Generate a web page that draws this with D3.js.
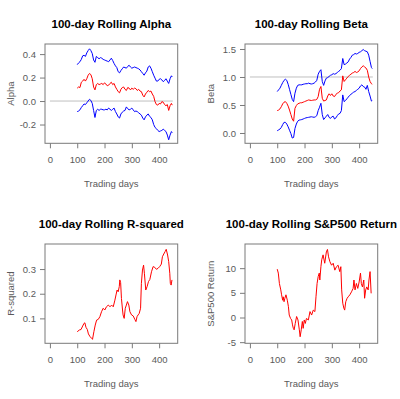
<!DOCTYPE html>
<html><head><meta charset="utf-8">
<script src="https://cdn.jsdelivr.net/npm/d3@7"></script>
<style>html,body{margin:0;padding:0;background:#fff;} svg{display:block;}</style>
</head><body><svg id="c" width="400" height="399"></svg>
<script>
// ---------- data ----------
const xTicks = [0, 100, 200, 300, 400];

const rollDays = [100,105,110,115,120,125,130,135,140,145,
  150,155,160,165,170,175,180,185,190,195,
  200,205,210,215,220,225,230,235,240,245,
  250,255,260,265,270,275,280,285,290,295,
  300,305,310,315,320,325,330,335,340,345,
  350,355,360,365,370,375,380,385,390,395,
  400,405,410,415,420,425,430,435,440,445,448];

const alphaMid = [0.11,0.12,0.115,0.16,0.17,0.185,0.17,0.19,0.22,0.235,
  0.225,0.19,0.12,0.095,0.14,0.15,0.14,0.145,0.15,0.14,
  0.155,0.145,0.13,0.135,0.15,0.16,0.14,0.15,0.12,0.10,
  0.08,0.07,0.10,0.115,0.12,0.10,0.09,0.115,0.11,0.095,
  0.11,0.10,0.11,0.105,0.09,0.10,0.085,0.08,0.05,0.035,
  0.06,0.075,0.09,0.08,0.085,0.06,0.04,-0.005,-0.03,-0.035,
  -0.02,-0.025,-0.005,-0.01,-0.03,-0.04,-0.03,-0.08,-0.04,-0.02,-0.035];
const alphaUpper = [0.31,0.325,0.335,0.355,0.385,0.39,0.38,0.41,0.43,0.445,
  0.43,0.405,0.35,0.33,0.38,0.37,0.36,0.37,0.365,0.355,
  0.35,0.345,0.34,0.335,0.35,0.365,0.345,0.32,0.30,0.285,
  0.25,0.24,0.26,0.275,0.29,0.285,0.28,0.295,0.305,0.29,
  0.28,0.285,0.29,0.285,0.28,0.275,0.265,0.25,0.235,0.22,
  0.24,0.255,0.29,0.30,0.28,0.25,0.22,0.195,0.17,0.17,
  0.185,0.19,0.18,0.165,0.175,0.19,0.17,0.15,0.19,0.215,0.205];
const alphaLower = [-0.09,-0.085,-0.075,-0.055,-0.04,-0.025,-0.03,-0.015,0.0,0.015,
  0.005,-0.02,-0.08,-0.14,-0.08,-0.07,-0.08,-0.07,-0.07,-0.075,
  -0.075,-0.07,-0.075,-0.06,-0.07,-0.08,-0.07,-0.06,-0.09,-0.11,
  -0.135,-0.145,-0.11,-0.095,-0.085,-0.08,-0.05,-0.065,-0.075,-0.07,
  -0.06,-0.075,-0.09,-0.085,-0.09,-0.1,-0.11,-0.12,-0.145,-0.16,
  -0.135,-0.12,-0.11,-0.13,-0.14,-0.16,-0.2,-0.225,-0.235,-0.25,
  -0.26,-0.255,-0.25,-0.24,-0.25,-0.26,-0.29,-0.33,-0.29,-0.26,-0.27];

const betaMid = [0.40,0.41,0.43,0.47,0.52,0.55,0.56,0.53,0.48,0.41,
  0.33,0.25,0.21,0.44,0.49,0.52,0.53,0.54,0.54,0.55,
  0.56,0.57,0.58,0.59,0.585,0.58,0.585,0.59,0.59,0.60,
  0.65,0.78,0.83,0.62,0.57,0.58,0.59,0.66,0.70,0.67,
  0.70,0.66,0.65,0.69,0.71,0.72,0.75,0.77,1.02,0.92,
  0.95,0.98,1.01,1.03,1.05,1.07,1.08,1.10,1.08,1.09,
  1.11,1.15,1.18,1.20,1.18,1.16,1.12,1.00,0.92,0.88,0.87];
const betaUpper = [0.74,0.77,0.80,0.85,0.90,0.94,0.96,0.94,0.87,0.78,
  0.69,0.60,0.56,0.71,0.80,0.85,0.86,0.86,0.86,0.87,
  0.875,0.88,0.88,0.89,0.88,0.875,0.88,0.89,0.91,0.94,
  1.05,1.10,1.13,0.92,0.85,0.93,0.98,0.99,1.01,1.03,
  1.04,1.06,1.05,1.06,1.08,1.10,1.12,1.15,1.33,1.22,
  1.23,1.25,1.27,1.32,1.35,1.39,1.40,1.42,1.41,1.42,
  1.44,1.45,1.47,1.49,1.47,1.46,1.45,1.39,1.28,1.17,1.15];
const betaLower = [0.04,0.055,0.07,0.10,0.15,0.19,0.19,0.16,0.11,0.05,
  -0.01,-0.09,-0.08,0.08,0.16,0.21,0.23,0.235,0.24,0.25,
  0.26,0.27,0.275,0.28,0.285,0.29,0.285,0.28,0.29,0.31,
  0.40,0.46,0.53,0.33,0.24,0.27,0.30,0.33,0.28,0.26,
  0.29,0.30,0.25,0.27,0.31,0.34,0.35,0.40,0.68,0.56,
  0.58,0.61,0.64,0.67,0.69,0.71,0.73,0.74,0.76,0.78,
  0.80,0.84,0.86,0.83,0.82,0.78,0.85,0.74,0.66,0.57,0.58];

const rsqDays = [100,108,114,120,125,128,132,137,141,147,153,156,161,166,171,177,183,189,195,201,
  207,214,220,226,232,238,242,246,250,254,256,259,262,266,268,272,276,280,284,289,
  293,299,305,311,315,319,323,327,332,335,339,343,346,351,356,361,366,372,378,384,
  390,396,402,408,412,417,422,426,431,435,439,441,444,447];
const rsqValues = [0.046,0.053,0.055,0.069,0.080,0.082,0.064,0.055,0.037,0.026,0.019,0.015,0.046,0.073,0.093,0.096,0.107,0.127,0.141,0.134,
  0.147,0.154,0.147,0.154,0.147,0.174,0.195,0.215,0.208,0.229,0.256,0.245,0.181,0.134,0.114,0.100,0.141,0.154,0.168,0.154,
  0.127,0.114,0.110,0.096,0.087,0.107,0.114,0.120,0.141,0.242,0.296,0.316,0.283,0.215,0.229,0.249,0.258,0.289,0.310,0.307,
  0.299,0.303,0.310,0.320,0.350,0.361,0.371,0.380,0.357,0.330,0.283,0.242,0.235,0.256];

const spxDays = [100,104,108,113,116,120,122,125,128,132,137,141,144,149,153,156,159,162,166,171,
  176,181,184,188,192,195,199,203,207,214,220,226,232,238,242,246,250,254,256,260,
  263,268,274,280,284,288,293,299,305,311,317,323,329,333,336,340,344,347,351,356,
  360,366,372,378,381,385,390,395,400,405,408,412,417,420,424,428,433,436,440,444];
const spxValues = [9.8,9.0,6.9,5.6,4.6,3.5,4.2,3.2,3.9,4.6,3.5,2.2,0.5,-0.2,-0.5,-1.5,-2.2,-2.5,-1.2,0.2,
  -0.5,-2.5,-3.9,-2.5,-0.8,-2.2,-0.5,-1.2,-0.2,-0.5,1.2,0.5,1.5,1.2,4.2,6.9,8.3,9.0,7.6,10.3,
  11.7,12.7,11.0,13.3,13.8,12.3,11.3,10.6,11.0,9.6,10.3,10.6,9.3,10.3,5.6,2.9,1.9,1.5,3.2,3.9,
  4.2,4.6,5.2,5.9,7.6,5.6,6.9,5.9,7.2,9.0,6.9,6.2,7.6,3.9,5.6,6.2,5.6,7.6,9.3,4.9];

const alphaTicks = [-0.2, 0.0, 0.2, 0.4];
const betaTicks = [0.0, 0.5, 1.0, 1.5];
const rsqTicks = [0.1, 0.2, 0.3];
const spxTicks = [-5, 0, 5, 10];

// ---------- drawing ----------
const svg = d3.select('#c');
const FONT = '"Liberation Sans", Arial, Helvetica, sans-serif';
const box = {l: 45, r: 177.7, t: 44, b: 143.3};
const fix = s => s.replace('\u2212', '-');
const fmt1 = v => fix(d3.format('.1f')(v));
const fmt0 = v => fix(d3.format('d')(v));

function panel(ox, oy, cfg) {
  const g = svg.append('g').attr('transform', `translate(${ox},${oy})`);
  const x = d3.scaleLinear().domain([-18, 468]).range([box.l, box.r]);
  const y = d3.scaleLinear().domain(cfg.yDomain).range([box.b, box.t]);

  // reference line
  if (cfg.ref !== undefined) {
    g.append('line')
      .attr('x1', x(0)).attr('x2', x(450))
      .attr('y1', y(cfg.ref)).attr('y2', y(cfg.ref))
      .attr('stroke', '#bfbfbf').attr('stroke-width', 1);
  }

  const line = d3.line().x(d => x(d[0])).y(d => y(d[1]));
  cfg.series.forEach(s => {
    g.append('path')
      .datum(s.days.map((d, i) => [d, s.values[i]]))
      .attr('d', line)
      .attr('fill', 'none')
      .attr('stroke', s.color)
      .attr('stroke-width', 1)
      .attr('stroke-linejoin', 'round');
  });

  // box
  g.append('rect')
    .attr('x', box.l).attr('y', box.t)
    .attr('width', box.r - box.l).attr('height', box.b - box.t)
    .attr('fill', 'none').attr('stroke', '#7a7a7a').attr('stroke-width', 1);

  // x axis
  const xa = g.append('g').attr('transform', `translate(0,${box.b})`)
    .call(d3.axisBottom(x).tickValues(xTicks).tickSize(5).tickPadding(8).tickFormat(d3.format('d')));
  xa.select('.domain').remove();
  xa.selectAll('line').attr('stroke', '#7a7a7a');
  xa.selectAll('text').attr('fill', '#5a5a5a').style('font', `9.5px ${FONT}`);

  // y axis
  const ya = g.append('g').attr('transform', `translate(${box.l},0)`)
    .call(d3.axisLeft(y).tickValues(cfg.yTicks).tickSize(5).tickPadding(4).tickFormat(cfg.yFmt));
  ya.select('.domain').remove();
  ya.selectAll('line').attr('stroke', '#7a7a7a');
  ya.selectAll('text').attr('fill', '#5a5a5a').style('font', `9.5px ${FONT}`);

  // title
  g.append('text').attr('x', (box.l + box.r) / 2).attr('y', 28)
    .attr('text-anchor', 'middle').attr('fill', '#000')
    .style('font', `bold 11.5px ${FONT}`).text(cfg.title);

  // x label
  g.append('text').attr('x', (box.l + box.r) / 2).attr('y', 186.5)
    .attr('text-anchor', 'middle').attr('fill', '#5a5a5a')
    .style('font', `9.5px ${FONT}`).text('Trading days');

  // y label
  g.append('text')
    .attr('transform', `translate(13.5,${(box.t + box.b) / 2}) rotate(-90)`)
    .attr('text-anchor', 'middle').attr('fill', '#5a5a5a')
    .style('font', `9.5px ${FONT}`).text(cfg.ylab);
}

panel(0, 0, {
  title: '100-day Rolling Alpha', ylab: 'Alpha',
  yDomain: [-0.36, 0.486], yTicks: alphaTicks, yFmt: fmt1, ref: 0,
  series: [
    {days: rollDays, values: alphaUpper, color: '#0000ff'},
    {days: rollDays, values: alphaLower, color: '#0000ff'},
    {days: rollDays, values: alphaMid, color: '#ff0000'}
  ]
});

panel(200, 0, {
  title: '100-day Rolling Beta', ylab: 'Beta',
  yDomain: [-0.184, 1.589], yTicks: betaTicks, yFmt: fmt1, ref: 1,
  series: [
    {days: rollDays, values: betaUpper, color: '#0000ff'},
    {days: rollDays, values: betaLower, color: '#0000ff'},
    {days: rollDays, values: betaMid, color: '#ff0000'}
  ]
});

panel(0, 200, {
  title: '100-day Rolling R-squared', ylab: 'R-squared',
  yDomain: [-0.001, 0.4016], yTicks: rsqTicks, yFmt: fmt1,
  series: [{days: rsqDays, values: rsqValues, color: '#ff0000'}]
});

panel(200, 200, {
  title: '100-day Rolling S&P500 Return', ylab: 'S&P500 Return',
  yDomain: [-5.23, 14.9], yTicks: spxTicks, yFmt: fmt0,
  series: [{days: spxDays, values: spxValues, color: '#ff0000'}]
});
</script>
</body></html>
